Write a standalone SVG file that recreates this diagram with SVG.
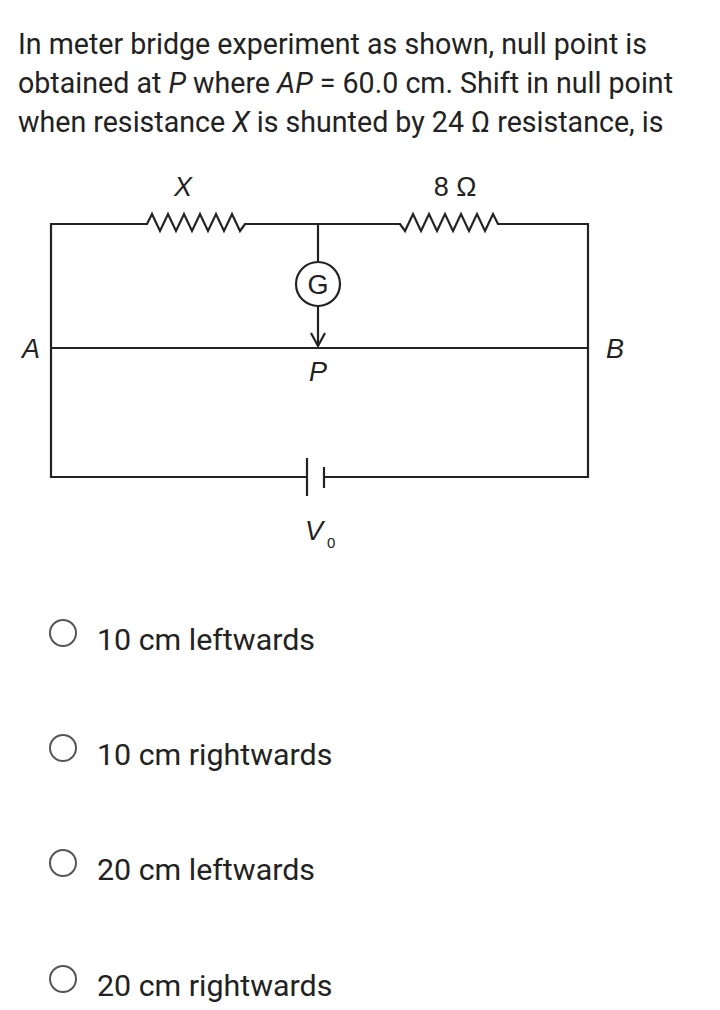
<svg xmlns="http://www.w3.org/2000/svg" width="720" height="1010" viewBox="0 0 720 1010">
<style>
.t{font-family:Roboto,"Liberation Sans",sans-serif;fill:#222}
.q{font-size:28.6px}
.o{font-size:30.4px}
.l{font-family:"Liberation Sans",Arial,sans-serif;font-size:27px;fill:#222}
.s{font-family:"Liberation Sans",Arial,sans-serif;font-size:15px;fill:#222}
.w{fill:none;stroke:#222;stroke-width:2.2;stroke-linejoin:miter}
.rb{fill:none;stroke:#555;stroke-width:2}
</style>
<rect width="720" height="1010" fill="#fff"/>
<g id="question">
<text class="t q" x="18" y="54">In meter bridge experiment as shown, null point is</text>
<text class="t q" x="18" y="93">obtained at <tspan font-style="italic">P</tspan> where <tspan font-style="italic">AP</tspan> = 60.0 cm. Shift in null point</text>
<text class="t q" x="18" y="132">when resistance <tspan font-style="italic">X</tspan> is shunted by 24 Ω resistance, is</text>
</g>
<g id="connectors">
<polyline class="w" points="318,224 245,224 240,231 232,214 224,231 216,214 208,231 200,214 192,231 184,214 176,231 168,214 160,231 152,214 147,224 137,224 51,224 51,477 307,477"/>
<polyline class="w" points="318,224 400,224 405,231 413,214 421,231 429,214 437,231 445,214 453,231 461,214 469,231 477,214 485,231 493,214 498,224 588,224 588,477 324,477"/>
<line class="w" x1="51" y1="348" x2="588" y2="348"/>
<line class="w" x1="318" y1="224" x2="318" y2="262"/>
<line class="w" x1="318" y1="306" x2="318" y2="346"/>
<polyline class="w" points="311,333 318,346 325,333"/>
<line class="w" x1="307" y1="458" x2="307" y2="496"/>
<line class="w" x1="324" y1="467" x2="324" y2="488"/>
</g>
<g id="galvanometer">
<circle cx="318" cy="284" r="22" fill="#fff" stroke="#222" stroke-width="2.2"/>
<text class="l" x="318" y="294" text-anchor="middle">G</text>
</g>
<g id="labels">
<text class="l" x="183" y="196" text-anchor="middle" font-style="italic">X</text>
<text class="l" x="455" y="196" text-anchor="middle">8 Ω</text>
<text class="l" x="31" y="358" text-anchor="middle" font-style="italic">A</text>
<text class="l" x="615" y="358" text-anchor="middle" font-style="italic">B</text>
<text class="l" x="318" y="381" text-anchor="middle" font-style="italic">P</text>
<text class="l" x="305" y="540" font-style="italic">V</text><text class="s" x="327" y="548">0</text>
</g>
<g id="opt1"><circle class="rb" cx="63" cy="633" r="13"/><text class="t o" x="97" y="650">10 cm leftwards</text></g>
<g id="opt2"><circle class="rb" cx="63" cy="748" r="13"/><text class="t o" x="97" y="765">10 cm rightwards</text></g>
<g id="opt3"><circle class="rb" cx="63" cy="863" r="13"/><text class="t o" x="97" y="880">20 cm leftwards</text></g>
<g id="opt4"><circle class="rb" cx="63" cy="979" r="13"/><text class="t o" x="97" y="996">20 cm rightwards</text></g>
</svg>
